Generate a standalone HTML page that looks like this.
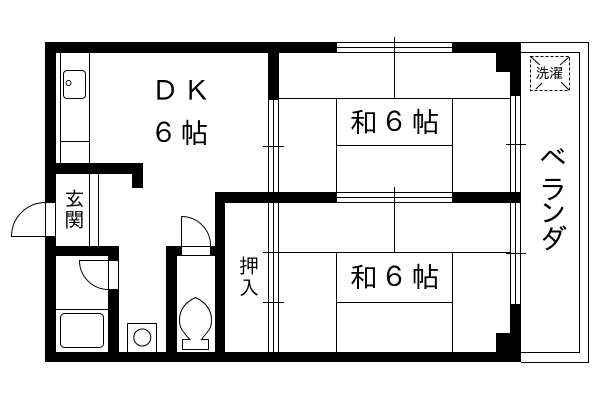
<!DOCTYPE html>
<html><head><meta charset="utf-8"><style>
html,body{margin:0;padding:0;background:#fff;width:600px;height:400px;overflow:hidden}
svg{display:block}
text{font-family:"IPAGothic","Liberation Sans","Noto Sans CJK JP",sans-serif;fill:#000}
.l{stroke:#000;stroke-width:1;fill:none;shape-rendering:crispEdges}
.c{stroke:#000;stroke-width:1;fill:none}
</style></head><body>
<svg width="600" height="400" viewBox="0 0 600 400" xmlns="http://www.w3.org/2000/svg">
<rect width="600" height="400" fill="#fff"/>
<!-- balcony -->
<path class="l" d="M521 42.5H588.5V362.5H521M521 52.5H579.5V352.5H521"/>
<!-- sliding doors -->
<path class="l" d="M268.5 100V352M273.5 100V352M278.5 100V352M510.5 96V304M515.5 96V304M520.5 96V304"/>
<!-- walls -->
<g fill="#000" shape-rendering="crispEdges">
<rect x="45" y="42" width="292" height="11"/>
<rect x="452" y="42" width="69" height="11"/>
<rect x="45" y="42" width="11" height="320"/>
<rect x="45" y="352" width="476" height="10"/>
<rect x="268" y="42" width="11" height="58"/>
<rect x="510" y="42" width="11" height="54"/>
<rect x="496" y="53" width="14" height="19"/>
<rect x="510" y="304" width="11" height="58"/>
<rect x="496" y="333" width="14" height="20"/>
<rect x="45" y="163" width="98" height="11"/>
<rect x="132" y="163" width="11" height="25"/>
<rect x="215" y="192" width="122" height="11"/>
<rect x="452" y="192" width="69" height="11"/>
<rect x="215" y="192" width="10" height="170"/>
<rect x="45" y="246" width="74" height="10"/>
<rect x="108" y="246" width="11" height="116"/>
<rect x="166" y="246" width="59" height="10"/>
<rect x="166" y="246" width="11" height="116"/>
</g>
<!-- openings -->
<g fill="#fff" stroke="#000" shape-rendering="crispEdges">
<rect x="45.5" y="202.5" width="10" height="34"/>
<rect x="108.5" y="260.5" width="10" height="29"/>
<rect x="181.5" y="246.5" width="29" height="9"/>
</g>
<!-- windows -->
<g fill="#fff" shape-rendering="crispEdges">
<rect x="337" y="42" width="115" height="11"/>
<rect x="337" y="192" width="115" height="11"/>
</g>
<path class="l" d="M337 42.5H452M337 47.5H452M337 52.5H452M337 192.5H452M337 197.5H452M337 202.5H452"/>
<!-- tatami lines -->
<path class="l" d="M394.5 37V98M394.5 187V252M279 98.5H510M336.5 98V192M452.5 98V192M336.5 145.5H452.5M263 146.5H284M506 144.5H526M263 252.5H510M506 253.5H526M336.5 252V352M452.5 252V352M336.5 302.5H452.5M263 302.5H284"/>
<!-- kitchen -->
<path class="l" d="M60.5 53V163M89.5 53V163M60.5 141.5H89.5M89.5 174V246M98.5 174V246"/>
<rect class="c" x="63.5" y="70.5" width="22" height="28" rx="3.5"/>
<circle class="c" cx="68.5" cy="83" r="2.5"/>
<!-- doors -->
<path class="c" d="M45 202.5A34 34 0 0 0 11.5 236.5H45"/>
<path class="c" d="M108 260.5H79.5A29 29 0 0 0 108 289.5"/>
<path class="c" d="M181.5 246V216.5A29 29 0 0 1 210.5 246"/>
<!-- bath -->
<path class="l" d="M56 309.5H108"/>
<rect class="c" x="60.5" y="313.5" width="43" height="34" rx="4"/>
<!-- washing unit -->
<path class="l" d="M127.5 352V323.5H156.5V352"/>
<circle class="c" cx="142.3" cy="337.5" r="8.5"/>
<!-- toilet -->
<path class="c" d="M190 339.5L188 337.5L182 330C180 327 179.5 323 179.5 320C179.5 309 186 302 195.5 297.5C205 302 211.5 309 211.5 320C211.5 323 211 327 209 330L203 337.5L201.5 339.5H208.5V349.5H182.5V339.5Z"/>
<!-- laundry -->
<rect class="l" x="530.5" y="56.5" width="39" height="34" stroke-dasharray="3 2"/>
<path class="c" d="M531 57L540 65M569 57L560 65M536 89L542 83M569 90L561 82"/>
<text x="535.5" y="78" font-size="14">洗濯</text>
<!-- labels -->
<text x="151" y="101" font-size="28">Ｄ</text>
<text x="183" y="101" font-size="28">Ｋ</text>
<text x="149.5" y="143" font-size="28">６</text>
<text x="180.5" y="143" font-size="28">帖</text>
<text x="349.5" y="132" font-size="28">和</text>
<text x="380" y="132" font-size="28">６</text>
<text x="411.5" y="132" font-size="28">帖</text>
<text x="349.5" y="287" font-size="28">和</text>
<text x="380" y="287" font-size="28">６</text>
<text x="411.5" y="287" font-size="28">帖</text>
<text x="539" y="168" font-size="28">ベ</text>
<text x="539" y="199" font-size="28">ラ</text>
<text x="539" y="223" font-size="28">ン</text>
<text x="539" y="249" font-size="28">ダ</text>
<text x="64.5" y="206" font-size="20">玄</text>
<text x="64.5" y="227" font-size="20">関</text>
<text x="239" y="273" font-size="20">押</text>
<text x="239" y="295" font-size="20">入</text>
</svg>
</body></html>
